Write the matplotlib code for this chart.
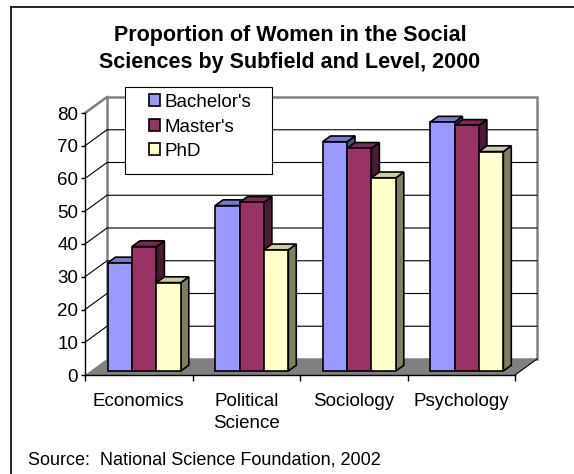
"""
plot.py - Proportion of women in the social sciences, Excel-style 3D columns.
"""

import matplotlib
matplotlib.use("Agg")
import matplotlib.pyplot as plt
from matplotlib.patches import Polygon, Rectangle, Patch
from matplotlib.lines import Line2D

plt.rcParams["font.family"] = ["Liberation Sans", "DejaVu Sans"]

categories = ["Economics", "Political\nScience", "Sociology", "Psychology"]
series = ["Bachelor's", "Master's", "PhD"]
bachelors = [33, 50.5, 70, 76]
masters = [38, 51.5, 68, 75]
phd = [27, 37, 59, 67]
values = [bachelors, masters, phd]
y_ticks = [0, 10, 20, 30, 40, 50, 60, 70, 80]

front = ["#9999FF", "#993366", "#FFFFCC"]
top = ["#7A7ACC", "#7A2952", "#CCCCA3"]
side = ["#4D4D80", "#4D1A33", "#80805F"]
WALL = "#808080"

# depth of the box in data units (x in categories, y in value units)
DX, DY = 0.2047, 4.885
F0, F1 = 0.25, 0.61      # bar front / back as fraction of the depth
BW = 0.227               # bar width in category units

fig = plt.figure(figsize=(5.74, 4.74), dpi=100)
fig.patch.set_facecolor("white")
ax = fig.add_axes([85 / 574, 99 / 474, 430 / 574, 262 / 474])
ax.set_xlim(0, 4)
ax.set_ylim(0, 80)
ax.patch.set_visible(False)
for s in ("top", "right"):
    ax.spines[s].set_visible(False)
for s in ("left", "bottom"):
    ax.spines[s].set_color("black")
    ax.spines[s].set_linewidth(1.0)

n = len(categories)
ymax = y_ticks[-1]

# walls
ax.add_patch(Polygon([(0, 0), (DX, DY), (DX, ymax + DY), (0, ymax)],
                     closed=True, fc="white", ec="none", zorder=1, clip_on=False))
ax.add_patch(Rectangle((DX, DY), n, ymax, fc="white", ec=WALL, lw=1.8,
                       zorder=1, clip_on=False))
ax.plot([0, DX], [ymax, ymax + DY], color=WALL, lw=1.8, zorder=1.2,
        clip_on=False, solid_capstyle="projecting")
for v in y_ticks[1:-1]:
    ax.plot([0, DX, n + DX], [v, v + DY, v + DY], color="black", lw=0.8,
            zorder=1.1, clip_on=False)

# floor
ax.add_patch(Polygon([(0, 0), (n, 0), (n + DX, DY), (DX, DY)], closed=True,
                     fc=WALL, ec="none", zorder=2, clip_on=False))
ax.plot([n, n + DX], [0, DY], color="black", lw=0.8, zorder=2.1, clip_on=False)

# bars
z = 3
for i in range(n):
    for j in range(len(series)):
        v = values[j][i]
        x0 = i + 0.5 + (j - 1.5) * BW + F0 * DX
        x1 = x0 + BW
        b = F0 * DY
        ddx = (F1 - F0) * DX
        ddy = (F1 - F0) * DY
        kw = dict(ec="black", lw=1.2, joinstyle="miter", clip_on=False, zorder=z)
        ax.add_patch(Polygon([(x1, b), (x1 + ddx, b + ddy), (x1 + ddx, b + v + ddy),
                              (x1, b + v)], fc=side[j], **kw))
        ax.add_patch(Polygon([(x0, b + v), (x1, b + v), (x1 + ddx, b + v + ddy),
                              (x0 + ddx, b + v + ddy)], fc=top[j], **kw))
        ax.add_patch(Rectangle((x0, b), BW, v, fc=front[j], **kw))
        z += 0.01

# axes ticks
ax.set_yticks(y_ticks)
ax.tick_params(axis="y", direction="out", length=3, width=1, pad=2,
               labelsize=13.5, colors="black")
ax.set_xticks(range(n + 1))
ax.set_xticklabels([])
ax.set_xticks([i + 0.5 for i in range(n)], minor=True)
ax.set_xticklabels(categories, minor=True, fontsize=13.5, linespacing=1.4)
ax.tick_params(axis="x", which="major", direction="out", length=4, width=1)
ax.tick_params(axis="x", which="minor", length=0, pad=13)

# legend box
fig.add_artist(Rectangle((125 / 574, 1 - 174 / 474), 147 / 574, 87 / 474,
                         transform=fig.transFigure, fc="white", ec="black",
                         lw=0.8, zorder=5))
handles = [Patch(fc=c, ec="black", lw=1.2) for c in front]
leg = fig.legend(handles, series, loc="upper left",
                 bbox_to_anchor=(149 / 574, 1 - 94 / 474), frameon=False,
                 fontsize=13.5, borderpad=0, borderaxespad=0, handlelength=0.6,
                 handleheight=0.6, handletextpad=0.2, labelspacing=0.4)
leg.set_zorder(6)

# title, source, frame
fig.text(290 / 574, 1 - 49 / 474,
         "Proportion of Women in the Social\nSciences by Subfield and Level, 2000",
         ha="center", va="center", fontsize=15.5, fontweight="bold",
         linespacing=1.33)
fig.text(28 / 574, 1 - 460 / 474, "Source:  National Science Foundation, 2002",
         ha="left", va="center", fontsize=13)
fig.add_artist(Line2D([11 / 574, 11 / 574], [0, 1 - 7 / 474], color="black",
                      lw=1.2, transform=fig.transFigure))
fig.add_artist(Line2D([11 / 574, 1], [1 - 7 / 474, 1 - 7 / 474], color="black",
                      lw=1.2, transform=fig.transFigure))

fig.savefig("out.png", dpi=100)
print("saved out.png")
